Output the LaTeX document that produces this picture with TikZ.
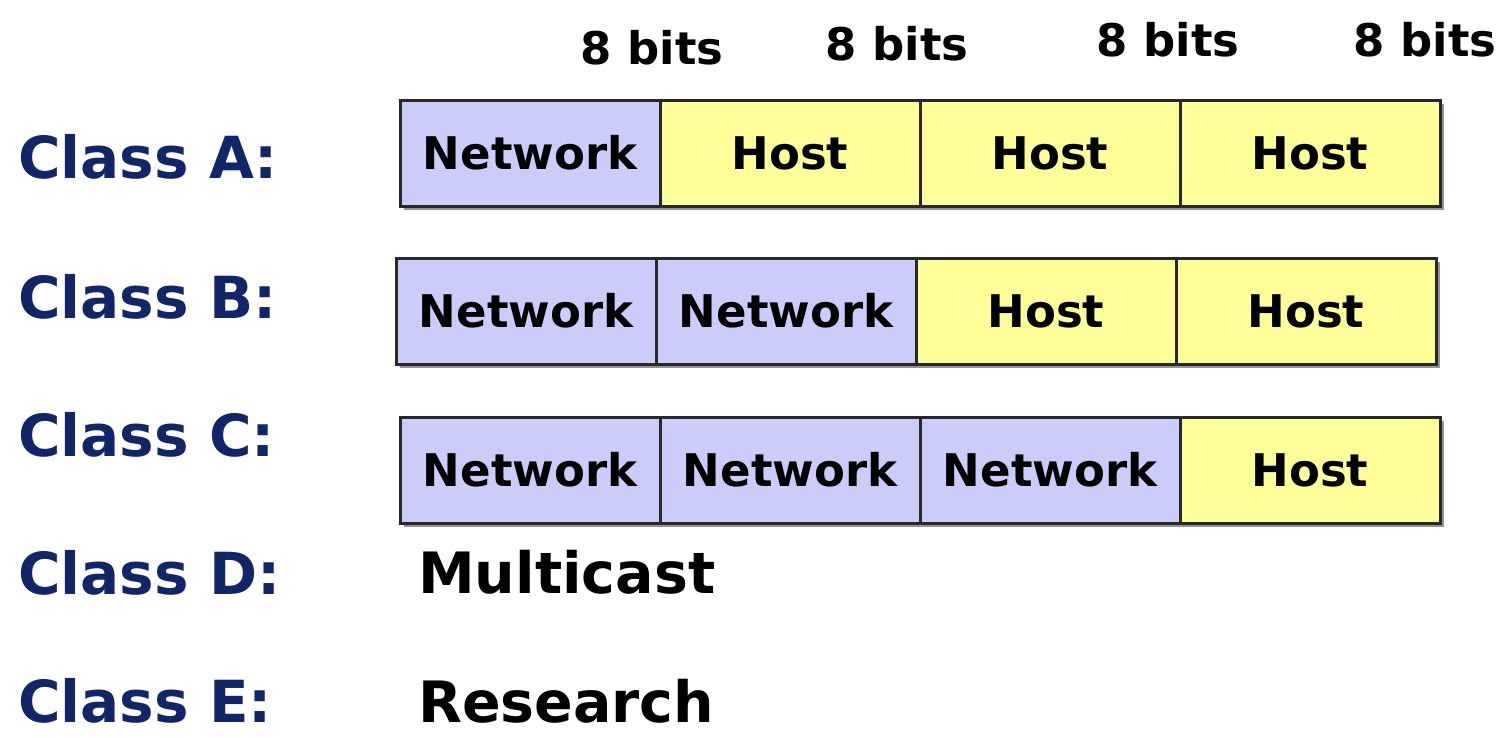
\documentclass[tikz,border=0pt]{standalone}
\usepackage{fontspec}
\setmainfont{DejaVu Sans}
\usepackage{xcolor}
\usetikzlibrary{positioning, shadows}

\definecolor{netblue}{RGB}{204,204,250}
\definecolor{hostyellow}{RGB}{255,255,153}
\definecolor{classnavy}{RGB}{16,38,104}
\definecolor{cellborder}{RGB}{40,40,40}

\tikzset{
  cell/.style={draw=cellborder, line width=3pt, minimum width=260pt, minimum height=106pt,
    inner sep=0pt, outer sep=0pt, font=\fontsize{45}{50}\selectfont\bfseries,
    drop shadow={shadow xshift=3.5pt, shadow yshift=-3.5pt, fill=black!60, opacity=0.7}},
  netcell/.style={cell, fill=netblue},
  hostcell/.style={cell, fill=hostyellow},
  classlabel/.style={anchor=west, inner sep=0pt, text=classnavy, font=\fontsize{58}{64}\selectfont\bfseries},
  usage/.style={anchor=west, inner sep=0pt, font=\fontsize{57}{62}\selectfont\bfseries},
  bitslabel/.style={inner sep=0pt, font=\fontsize{45}{50}\selectfont\bfseries}
}

\begin{document}
\begin{tikzpicture}[x=1pt, y=-1pt]
  \useasboundingbox (0,0) rectangle (1504,737);

  % bit widths
  \node[bitslabel] (w1) at (652,48) {8 bits};
  \node[bitslabel] (w2) at (897,44) {8 bits};
  \node[bitslabel] (w3) at (1168,40) {8 bits};
  \node[bitslabel] (w4) at (1425,40) {8 bits};

  % class A
  \node[classlabel] (la) at (18,157) {Class A:};
  \node[netcell, anchor=north west] (a1) at (400,100) {Network};
  \node[hostcell, right=0pt of a1] (a2) {Host};
  \node[hostcell, right=0pt of a2] (a3) {Host};
  \node[hostcell, right=0pt of a3] (a4) {Host};

  % class B
  \node[classlabel] (lb) at (18,297) {Class B:};
  \node[netcell, anchor=north west] (b1) at (396,258) {Network};
  \node[netcell, right=0pt of b1] (b2) {Network};
  \node[hostcell, right=0pt of b2] (b3) {Host};
  \node[hostcell, right=0pt of b3] (b4) {Host};

  % class C
  \node[classlabel] (lc) at (18,435) {Class C:};
  \node[netcell, anchor=north west] (c1) at (400,417) {Network};
  \node[netcell, right=0pt of c1] (c2) {Network};
  \node[netcell, right=0pt of c2] (c3) {Network};
  \node[hostcell, right=0pt of c3] (c4) {Host};

  % class D and E
  \node[classlabel] (ld) at (18,573) {Class D:};
  \node[usage] (md) at (418,572) {Multicast};
  \node[classlabel] (le) at (18,701) {Class E:};
  \node[usage] (re) at (418,701) {Research};
\end{tikzpicture}
\end{document}
